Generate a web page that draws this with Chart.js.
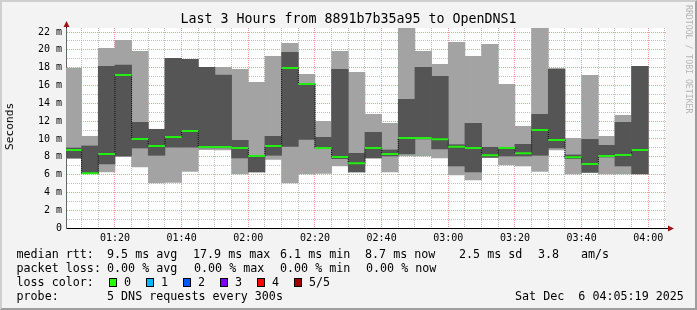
<!DOCTYPE html>
<html>
<head>
<meta charset="utf-8">
<title>Smokeping - 8891b7b35a95 to OpenDNS1</title>
<script src="https://cdn.jsdelivr.net/npm/chart.js@4.4.1/dist/chart.umd.min.js"></script>
<style>
  html, body { margin: 0; padding: 0; }
  body {
    width: 697px; height: 310px; position: relative; overflow: hidden;
    background: #f3f3f3; color: #000;
    font-family: "DejaVu Sans Mono", monospace;
  }
  #chart { position: absolute; left: 0; top: 0; }
  #frame {
    position: absolute; left: 0; top: 0; width: 697px; height: 310px; box-sizing: border-box;
    border: 2px solid; border-color: #cfcfcf #9e9e9e #9e9e9e #cfcfcf; pointer-events: none;
  }
  .title { position: absolute; left: 0; top: 11px; width: 697px; text-align: center; font-size: 13.3px; line-height: 16px; }
  .ylab { position: absolute; left: 3px; top: 103px; font-size: 11.2px; line-height: 14px; writing-mode: vertical-rl; transform: rotate(180deg); white-space: pre; }
  .wm { position: absolute; left: 684px; top: 5px; writing-mode: vertical-rl; font-size: 8.2px; color: #b5b5b5; white-space: pre; }
  .t { position: absolute; font-size: 11.7px; line-height: 14px; white-space: pre; }
  .box { position: absolute; width: 6px; height: 7px; border: 1px solid #000; }
</style>
</head>
<body>
<canvas id="chart" width="697" height="310"></canvas>

<div class="title">Last 3 Hours from 8891b7b35a95 to OpenDNS1</div>
<div class="ylab">Seconds</div>
<div class="wm">RRDTOOL / TOBI OETIKER</div>

<div id="legend"></div>
<div id="frame"></div>

<script>
// 5 pings per 5 minute slot, sorted: min, 2nd, median, 4th, max (ms)
const slotStart = ['01:05', '01:10', '01:15', '01:20', '01:25', '01:30', '01:35', '01:40', '01:45', '01:50',
  '01:55', '02:00', '02:05', '02:10', '02:15', '02:20', '02:25', '02:30', '02:35', '02:40',
  '02:45', '02:50', '02:55', '03:00', '03:05', '03:10', '03:15', '03:20', '03:25', '03:30',
  '03:35', '03:40', '03:45', '03:50', '03:55'];
const rttMin    = [7.8, 6.1, 6.29, 8.0, 6.85, 5.05, 5.13, 6.36, 8.8, 8.76,
  6.06, 6.29, 7.71, 5.05, 6.06, 6.14, 6.96, 6.29, 7.86, 6.29,
  8.08, 8.08, 7.86, 5.95, 5.39, 7.93, 7.07, 6.96, 6.36, 8.76,
  6.06, 6.25, 6.06, 6.06, 6.06];
const rttLow    = [7.86, 6.14, 7.19, 8.08, 8.98, 8.16, 9.06, 9.06, 9.0, 8.98,
  7.86, 6.29, 8.16, 9.17, 9.95, 8.9, 7.78, 6.29, 7.86, 8.08,
  8.31, 10.0, 8.87, 6.96, 6.29, 7.93, 8.08, 8.08, 8.16, 8.98,
  7.8, 6.25, 7.97, 6.96, 6.06];
const rttMedian = [8.76, 6.15, 8.31, 17.17, 9.99, 9.21, 10.22, 10.89, 9.09, 9.09,
  8.98, 8.08, 9.21, 17.96, 16.16, 8.98, 7.97, 7.26, 8.98, 8.31,
  10.1, 10.1, 9.95, 9.13, 8.98, 8.16, 8.98, 8.38, 11.0, 9.88,
  7.93, 7.19, 8.08, 8.2, 8.76];
const rttHigh   = [8.98, 9.21, 18.15, 18.3, 11.86, 11.08, 19.04, 18.93, 18.03, 17.17,
  9.84, 8.12, 10.29, 19.72, 16.2, 10.18, 17.81, 8.38, 10.74, 8.76,
  14.44, 18.03, 17.02, 9.35, 11.75, 9.06, 9.0, 9.39, 12.76, 17.81,
  8.2, 9.95, 9.28, 11.86, 18.15];
const rttMax    = [17.96, 10.29, 20.17, 21.06, 19.83, 11.08, 19.04, 18.93, 18.03, 18.03,
  17.81, 16.35, 19.27, 20.73, 17.25, 11.97, 19.83, 17.47, 12.76, 11.75,
  22.5, 19.83, 18.37, 20.84, 19.27, 20.62, 16.13, 11.41, 22.5, 17.92,
  10.07, 17.14, 10.29, 12.65, 18.15];

const xLabelTimes = ['01:20', '01:40', '02:00', '02:20', '02:40', '03:00', '03:20', '03:40', '04:00'];
const yTickLabels = ['0', '2 m', '4 m', '6 m', '8 m', '10 m', '12 m', '14 m', '16 m', '18 m', '20 m', '22 m'];

const SLOT = 5;               // minutes per bar
const X_MIN = 65 + 19 / 60;   // 01:05:19
const X_MAX = X_MIN + 180;    // 04:05:19
const Y_MAX = 22.45;

const MAJOR = 'rgba(240,120,120,0.75)';
const MINOR = 'rgba(170,170,170,0.75)';
const GREEN = '#22ee11';

const toMin = s => { const [h, m] = s.split(':').map(Number); return h * 60 + m; };

// legend lines
const legendItems = [
  [247, 16.5, 'median rtt:'], [247, 107, '9.5 ms avg'], [247, 193, '17.9 ms max'], [247, 280, '6.1 ms min'],
  [247, 365, '8.7 ms now'], [247, 459, '2.5 ms sd'], [247, 538, '3.8'], [247, 581, 'am/s'],
  [261, 16.5, 'packet loss:'], [261, 107, '0.00 % avg'], [261, 194, '0.00 % max'], [261, 280, '0.00 % min'], [261, 366, '0.00 % now'],
  [275, 16.5, 'loss color:'],
  [289, 16.5, 'probe:'], [289, 107, '5 DNS requests every 300s'], [289, 515, 'Sat Dec  6 04:05:19 2025'],
];
const lossLabels = ['0', '1', '2', '3', '4', '5/5'];
const lossColors = ['#26ff00', '#00b8ff', '#0059ff', '#7e00ff', '#ff0000', '#a10000'];
const lossBoxX = [109, 146, 183, 220, 257, 294];

let html = '';
legendItems.forEach(([top, left, txt]) => {
  html += `<div class="t" style="top:${top}px;left:${left}px">${txt}</div>`;
});
lossLabels.forEach((lab, i) => {
  html += `<div class="box" style="top:278px;left:${lossBoxX[i]}px;background:${lossColors[i]}"></div>`;
  html += `<div class="t" style="top:275px;left:${lossBoxX[i] + 15}px">${lab}</div>`;
});
document.getElementById('legend').innerHTML = html;

// chart data built from the arrays
const outerBars = slotStart.map((t, i) => ({ x: toMin(t) + SLOT / 2, y: [rttMin[i], rttMax[i]] }));
const innerBars = slotStart.map((t, i) => ({ x: toMin(t) + SLOT / 2, y: [rttLow[i], rttHigh[i]] }));
const medianSegs = slotStart.flatMap((t, i) => [
  { x: toMin(t), y: rttMedian[i] }, { x: toMin(t) + SLOT, y: rttMedian[i] }, { x: toMin(t) + SLOT, y: null }]);
const medianJoins = slotStart.slice(0, -1).flatMap((t, i) => [
  { x: toMin(t) + SLOT, y: rttMedian[i] }, { x: toMin(t) + SLOT, y: rttMedian[i + 1] }, { x: toMin(t) + SLOT, y: null }]);

const xTicks = [];
for (let v = Math.ceil(X_MIN / SLOT) * SLOT; v <= X_MAX; v += SLOT) xTicks.push(v);
const xLabelAt = {};
xLabelTimes.forEach(s => { xLabelAt[toMin(s)] = s; });
const yTicks = [];
for (let v = 0; v <= Math.floor(Y_MAX); v++) yTicks.push(v);

// white canvas area, plus arrows at the ends of the axes
const axisArrows = {
  id: 'axisArrows',
  beforeDraw(chart) {
    const { ctx, chartArea: a } = chart;
    ctx.save();
    ctx.fillStyle = '#ffffff';
    ctx.fillRect(a.left, a.top, a.right - a.left, a.bottom - a.top);
    ctx.restore();
  },
  afterDraw(chart) {
    const { ctx, chartArea: a } = chart;
    ctx.save();
    ctx.strokeStyle = '#000';
    ctx.lineWidth = 1;
    ctx.beginPath();
    ctx.moveTo(a.left + 0.5, a.top); ctx.lineTo(a.left + 0.5, a.top - 2);
    ctx.moveTo(a.right, a.bottom + 0.5); ctx.lineTo(a.right + 3, a.bottom + 0.5);
    ctx.stroke();
    ctx.fillStyle = '#a01515';
    ctx.beginPath();
    ctx.moveTo(a.left + 0.5, a.top - 7);
    ctx.lineTo(a.left - 2.5, a.top - 1);
    ctx.lineTo(a.left + 3.5, a.top - 1);
    ctx.closePath(); ctx.fill();
    ctx.beginPath();
    ctx.moveTo(a.right + 8, a.bottom + 0.5);
    ctx.lineTo(a.right + 2, a.bottom - 2.5);
    ctx.lineTo(a.right + 2, a.bottom + 3.5);
    ctx.closePath(); ctx.fill();
    ctx.restore();
  },
};

new Chart(document.getElementById('chart'), {
  type: 'bar',
  data: {
    datasets: [
      { type: 'line', data: medianSegs, borderColor: GREEN, borderWidth: 2, pointRadius: 0, spanGaps: false },
      { type: 'line', data: medianJoins, borderColor: '#111', borderWidth: 1, borderDash: [1, 1], pointRadius: 0, spanGaps: false },
      { data: innerBars, backgroundColor: '#555555', borderWidth: 0, grouped: false, barPercentage: 1, categoryPercentage: 1 },
      { data: outerBars, backgroundColor: '#a3a3a3', borderWidth: 0, grouped: false, barPercentage: 1, categoryPercentage: 1 },
    ],
  },
  options: {
    responsive: false,
    animation: false,
    devicePixelRatio: 1,
    layout: { padding: { top: 28, right: 31, left: 0, bottom: 0 } },
    plugins: { legend: { display: false }, tooltip: { enabled: false } },
    scales: {
      x: {
        type: 'linear', min: X_MIN, max: X_MAX, offset: false,
        afterFit: s => { s.height = 82; },
        afterBuildTicks: s => { s.ticks = xTicks.map(v => ({ value: v })); },
        grid: { offset: false, drawTicks: false, color: c => (c.tick && c.tick.value % 20 === 0 ? MAJOR : MINOR) },
        border: { color: '#000', width: 1, dash: [1, 1] },
        ticks: {
          autoSkip: false, maxRotation: 0, padding: 4, color: '#000',
          font: { family: 'DejaVu Sans Mono', size: 10 },
          callback: v => xLabelAt[v] || '',
        },
      },
      y: {
        min: 0, max: Y_MAX,
        afterFit: s => { s.width = 66; },
        afterBuildTicks: s => { s.ticks = yTicks.map(v => ({ value: v })); },
        grid: { drawTicks: false, color: c => (c.tick && c.tick.value % 2 === 0 ? MAJOR : MINOR) },
        border: { color: '#666', width: 1, dash: [1, 1] },
        ticks: {
          autoSkip: false, padding: 4, color: '#000',
          font: { family: 'DejaVu Sans Mono', size: 10 },
          callback: v => (v % 2 === 0 ? yTickLabels[v / 2] : ''),
        },
      },
    },
  },
  plugins: [axisArrows],
});
</script>
</body>
</html>
